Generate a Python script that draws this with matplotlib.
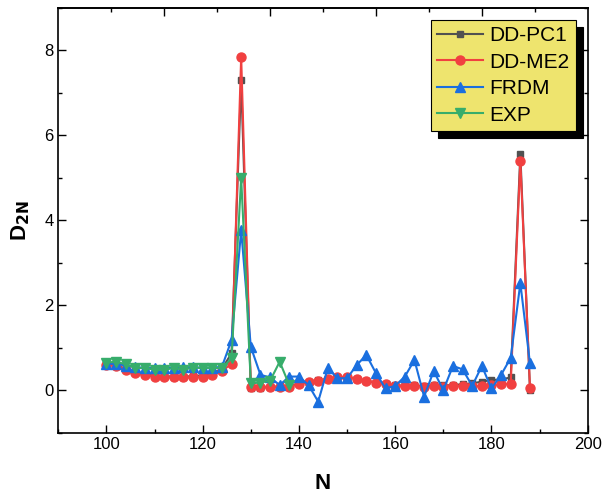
import matplotlib
matplotlib.use('Agg')
import matplotlib.pyplot as plt
from matplotlib.ticker import MultipleLocator, FixedLocator, NullFormatter

plt.rcParams['font.family'] = ['Liberation Sans', 'DejaVu Sans']

# neutron number
N = [100, 102, 104, 106, 108, 110, 112, 114, 116, 118, 120, 122, 124, 126,
     128, 130, 132, 134, 136, 138, 140, 142, 144, 146, 148, 150, 152, 154,
     156, 158, 160, 162, 164, 166, 168, 170, 172, 174, 176, 178, 180, 182,
     184, 186, 188]

dd_pc1 = [0.62, 0.60, 0.50, 0.42, 0.37, 0.34, 0.33, 0.32, 0.32, 0.33, 0.35,
          0.40, 0.50, 0.87, 7.30, 0.05, 0.06, 0.07, 0.09, 0.10, 0.15, 0.20,
          0.23, 0.27, 0.30, 0.31, 0.26, 0.22, 0.18, 0.14, 0.11, 0.11, 0.11,
          0.10, 0.11, 0.11, 0.12, 0.14, 0.16, 0.20, 0.24, 0.25, 0.30, 5.56,
          0.00]

dd_me2 = [0.60, 0.58, 0.48, 0.40, 0.35, 0.32, 0.30, 0.30, 0.30, 0.30, 0.32,
          0.36, 0.45, 0.62, 7.85, 0.08, 0.08, 0.08, 0.08, 0.08, 0.14, 0.20,
          0.22, 0.26, 0.30, 0.32, 0.26, 0.22, 0.18, 0.14, 0.10, 0.10, 0.10,
          0.08, 0.10, 0.08, 0.10, 0.10, 0.10, 0.10, 0.11, 0.14, 0.15, 5.40,
          0.06]

frdm = [0.62, 0.62, 0.58, 0.55, 0.52, 0.52, 0.53, 0.53, 0.54, 0.54, 0.53,
        0.53, 0.55, 1.18, 3.77, 1.02, 0.36, 0.30, 0.12, 0.32, 0.32, 0.12,
        -0.27, 0.52, 0.28, 0.28, 0.59, 0.83, 0.40, 0.04, 0.10, 0.32, 0.71,
        -0.15, 0.45, 0.00, 0.57, 0.49, 0.10, 0.57, 0.04, 0.36, 0.76, 2.52,
        0.63]

N_exp = [100, 102, 104, 106, 108, 110, 112, 114, 116, 118, 120, 122, 124,
         126, 128, 130, 132, 134, 136, 138]
exp = [0.65, 0.67, 0.61, 0.52, 0.52, 0.48, 0.48, 0.52, 0.48, 0.53, 0.52,
       0.52, 0.52, 0.75, 5.00, 0.16, 0.18, 0.22, 0.67, 0.12]

fig = plt.figure(figsize=(6.02, 4.95), dpi=100)
ax = fig.add_axes([0.0968, 0.126, 0.8795, 0.858])

ax.plot(N, dd_pc1, color='#515151', lw=1.5, marker='s', ms=5, label='DD-PC1')
ax.plot(N, dd_me2, color='#F14040', lw=1.5, marker='o', ms=6.5, label='DD-ME2')
ax.plot(N, frdm, color='#1A6FDF', lw=1.5, marker='^', ms=7, label='FRDM')
ax.plot(N_exp, exp, color='#37AD6B', lw=1.5, marker='v', ms=7, label='EXP')

ax.set_xlim(90, 200)
ax.set_ylim(-1, 9)
ax.xaxis.set_major_locator(MultipleLocator(20))
ax.xaxis.set_minor_locator(MultipleLocator(10))
ax.yaxis.set_major_locator(MultipleLocator(2))
ax.yaxis.set_minor_locator(MultipleLocator(1))
ax.tick_params(which='both', direction='in', labelsize=12, width=1,
               right=True)
ax.tick_params(which='major', length=5.5)
ax.tick_params(which='minor', length=2.8)
for s in ax.spines.values():
    s.set_linewidth(1.2)

# top axis: ten equal divisions
top = ax.secondary_xaxis('top', functions=(lambda x: (x - 90) / 11.0,
                                          lambda t: t * 11.0 + 90))
top.xaxis.set_major_locator(FixedLocator([2, 4, 6, 8]))
top.xaxis.set_minor_locator(FixedLocator([1, 3, 5, 7, 9]))
top.xaxis.set_major_formatter(NullFormatter())
top.tick_params(which='both', direction='in', width=1)
top.tick_params(which='major', length=5.5)
top.tick_params(which='minor', length=2.8)
top.spines['top'].set_linewidth(1.2)

ax.set_xlabel('N', fontsize=16, fontweight='bold', labelpad=15)
ax.set_ylabel('D$_{\\mathbf{2N}}$', fontsize=16, fontweight='bold', labelpad=9)

leg = ax.legend(loc='upper right', bbox_to_anchor=(0.978, 0.972),
                borderaxespad=0, fontsize=15, frameon=True, fancybox=False,
                facecolor='#EEE46E', edgecolor='black', framealpha=1,
                handlelength=2.2, handletextpad=0.33, labelspacing=0.36,
                borderpad=0.3,
                shadow={'ox': 5, 'oy': -5, 'color': 'black', 'alpha': 1})
leg.get_frame().set_linewidth(0.8)

fig.savefig('out.png', dpi=100)
